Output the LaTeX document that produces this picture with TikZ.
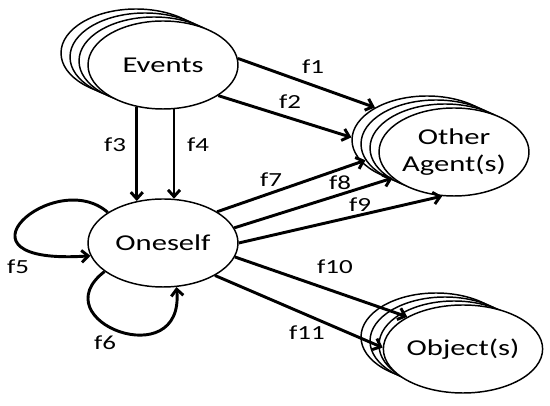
\documentclass[tikz,border=0pt]{standalone}
\usepackage{fontspec}
\setmainfont{Carlito}[FakeStretch=1.35]
\usepackage{tikz}
\usetikzlibrary{shapes.geometric,arrows.meta}
\tikzset{
  blob/.style={draw,ellipse,fill=white,line width=1.1pt,minimum width=112.5pt,
    minimum height=66pt,inner sep=0pt,align=center,
    font=\fontsize{17pt}{20pt}\selectfont},
  link/.style={line width=2.2pt,-{Straight Barb[length=5pt,width=9pt]}},
  lbl/.style={font=\fontsize{15pt}{18pt}\selectfont}
}

\begin{document}
\begin{tikzpicture}[x=0.75pt,y=0.75pt]
  \useasboundingbox (0,0) rectangle (550,406);
  % stacked ellipses
  \foreach \k in {3,2,1} {
    \node[blob] (evt\k) at (163-9*\k,341+4*\k) {};
    \node[blob] (oth\k) at (454-9*\k,254+4*\k) {};
    \node[blob] (obj\k) at (463-9*\k,57+4*\k) {};
  }
  \node[blob] (evt) at (163,341) {Events};
  \node[blob] (oth) at (454,254) {Other\\Agent(s)};
  \node[blob] (obj) at (463,57) {Object(s)};
  \node[blob] (one) at (163,163) {Oneself};

  \draw[link] (evt.5) -- (oth3.148);
  \draw[link] (evt.-29) -- (oth3.178);
  \draw[link] (evt.-122) -- (one.122);
  \draw[link] (evt.-76) -- (one.76);
  \draw[link] (one.151) .. controls (55,240) and (-60,140) .. (one.190);
  \draw[link] (one.206) .. controls (40,85) and (185,30) .. (one.287);
  \draw[link] (one.30) -- (oth2.193);
  \draw[link] (one.12) -- (oth.203);
  \draw[link] (one.0) -- (oth.255);
  \draw[link] (one.-11) -- (obj.150);
  \draw[link] (one.-32) -- (obj.179);

  \node[lbl] (f1) at (313,339) {f1};
  \node[lbl] (f2) at (290,304) {f2};
  \node[lbl] (f3) at (115,261) {f3};
  \node[lbl] (f4) at (198,261) {f4};
  \node[lbl] (f5) at (18,139) {f5};
  \node[lbl] (f6) at (105,63) {f6};
  \node[lbl] (f7) at (271,226) {f7};
  \node[lbl] (f8) at (340,223) {f8};
  \node[lbl] (f9) at (360,201) {f9};
  \node[lbl] (f10) at (335,139) {f10};
  \node[lbl] (f11) at (307,73) {f11};
\end{tikzpicture}
\end{document}
